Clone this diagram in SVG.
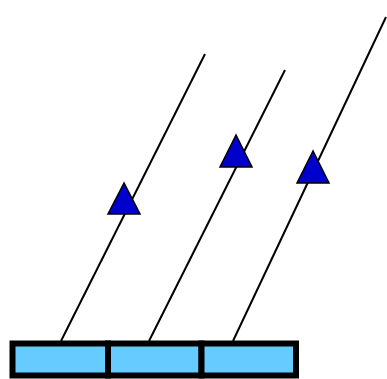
<svg xmlns="http://www.w3.org/2000/svg" width="387" height="379" viewBox="0 0 387 379">
<style>
.ln{stroke:#000;stroke-width:2;fill:none}
.tri{fill:#0000CC;stroke:#000;stroke-width:1.5;stroke-linejoin:miter}
.box{fill:#66CCFF;stroke:#000;stroke-width:6}
</style>
<rect width="387" height="379" fill="#fff"/>
<g id="connectors">
<line class="ln" x1="61" y1="341" x2="205" y2="54"/>
<line class="ln" x1="149" y1="341" x2="285" y2="70"/>
<line class="ln" x1="233" y1="341" x2="386" y2="17"/>
</g>
<g id="arrow1"><polygon class="tri" points="124,183 108,214 140,214"/></g>
<g id="arrow2"><polygon class="tri" points="236,135 220,167 252,167"/></g>
<g id="arrow3"><polygon class="tri" points="313,151 297,183 329,183"/></g>
<g id="box1"><rect class="box" x="12.5" y="343.5" width="95.5" height="32"/></g>
<g id="box2"><rect class="box" x="108" y="343.5" width="93.5" height="32"/></g>
<g id="box3"><rect class="box" x="201.5" y="343.5" width="94.5" height="32"/></g>
</svg>
